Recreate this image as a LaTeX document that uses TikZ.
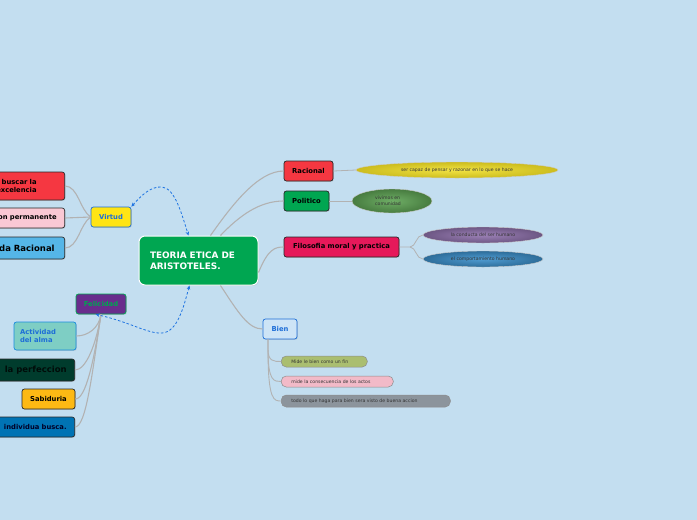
\documentclass[tikz,border=0pt]{standalone}
\usepackage{fontspec}
\setmainfont{DejaVu Sans}
\usetikzlibrary{arrows.meta,shapes.geometric,shadows}
\definecolor{bg}{RGB}{195,222,240}
\definecolor{conn}{RGB}{178,178,178}
\definecolor{dash}{RGB}{30,115,225}
\definecolor{cgreen}{RGB}{0,166,81}
\definecolor{cyellow}{RGB}{255,228,20}
\definecolor{cblue}{RGB}{30,110,215}
\definecolor{cred}{RGB}{245,55,65}
\definecolor{cpink}{RGB}{250,200,212}
\definecolor{clblue}{RGB}{85,182,232}
\definecolor{cpurple}{RGB}{105,45,140}
\definecolor{cteal}{RGB}{126,206,196}
\definecolor{cdkgreen}{RGB}{0,60,45}
\definecolor{corange}{RGB}{253,185,20}
\definecolor{cdblue}{RGB}{0,115,180}
\definecolor{cmag}{RGB}{230,25,90}
\definecolor{cbien}{RGB}{205,228,246}
\definecolor{colive}{RGB}{170,190,112}
\definecolor{cpink2}{RGB}{242,186,200}
\definecolor{cgray}{RGB}{140,148,156}
\definecolor{boxline}{RGB}{40,40,40}
\definecolor{eyel}{RGB}{240,222,35}
\definecolor{egrn}{RGB}{95,165,85}
\definecolor{epur}{RGB}{145,115,175}
\definecolor{eblu}{RGB}{60,145,205}
\tikzset{
  box/.style={draw=boxline, line width=0.7pt, rounded corners=2.5pt, inner sep=0pt,
    minimum height=20pt, font=\bfseries\fontsize{6.8}{8.5}\selectfont, align=center,
    drop shadow={shadow xshift=0.8pt, shadow yshift=-0.8pt, opacity=0.25}},
  cutbox/.style={box, anchor=east, align=right, inner xsep=8pt, text width=120pt},
  pill/.style={draw=black!45, line width=0.5pt, rounded corners=5pt, inner sep=0pt,
    anchor=west, font=\fontsize{4.6}{5.5}\selectfont, text=black!80, align=left},
  oval/.style={ellipse, draw=black!20, line width=0.4pt, inner sep=0pt,
    font=\fontsize{4.6}{5.5}\selectfont, text=black!80},
  link/.style={draw=conn, line width=1.1pt},
  dlink/.style={draw=dash, line width=0.8pt, dashed, dash pattern=on 2.5pt off 2pt,
    {Stealth[length=4pt,width=3.5pt]}-{Stealth[length=4pt,width=3.5pt]}},
}
\begin{document}
\begin{tikzpicture}[x=1pt,y=-1pt]
\useasboundingbox (0,0) rectangle (697,520);
\clip (0,0) rectangle (697,520);
\fill[bg] (0,0) rectangle (697,520);

% central
\node[draw=white, line width=1pt, fill=cgreen, rounded corners=6pt, minimum width=119pt,
  minimum height=49pt, inner sep=0pt, text width=97pt, align=left, text=white,
  font=\bfseries\fontsize{8.9}{11}\selectfont,
  drop shadow={shadow xshift=0.8pt, shadow yshift=-0.8pt, opacity=0.25}]
  (c) at (198.5,260.5) {TEORIA ETICA DE\\ARISTOTELES.};

% right branch
\node[box, fill=cred, minimum width=49pt] (rac) at (308.5,171) {Racional};
\node[box, fill=cgreen, minimum width=45pt] (pol) at (306.5,201) {Politico};
\node[box, fill=cmag, minimum width=115pt] (fil) at (341.5,247) {Filosofia moral y practica};
\node[box, draw=cblue, fill=cbien, text=cblue, minimum width=34pt] (bien) at (280,329) {Bien};

\node[oval, inner color=eyel!85!white, outer color=eyel!85!black,
  minimum width=202pt, minimum height=16pt] (e1) at (457,170)
  {ser capaz de pensar y razonar en lo que se hace};
\node[oval, inner color=egrn!90!white, outer color=egrn!75!black,
  minimum width=80pt, minimum height=24pt, align=left] (e2) at (392,201)
  {vivimos en\\comunidad\hspace*{8pt}};
\node[oval, inner color=epur!90!white, outer color=epur!75!black,
  minimum width=120pt, minimum height=16pt] (e3) at (483,235) {la conducta del ser humano};
\node[oval, inner color=eblu!90!white, outer color=eblu!75!black,
  minimum width=120pt, minimum height=16pt] (e4) at (483,259) {el comportamiento humano};

\node[pill, fill=colive, minimum width=86pt, minimum height=11pt, text width=74pt] (b1) at (281,361.5) {\hspace*{4pt}Mide le bien como un fin};
\node[pill, fill=cpink2, minimum width=112pt, minimum height=11pt, text width=100pt] (b2) at (281,381.5) {\hspace*{4pt}mide la consecuencia de los actos};
\node[pill, fill=cgray, minimum width=169pt, minimum height=12pt, text width=157pt] (b3) at (281,401) {\hspace*{4pt}todo lo que haga para bien sera visto de buena accion};

% left branch: Virtud
\node[box, draw=cblue, fill=cyellow, text=cblue, minimum width=40pt] (vir) at (111,217) {Virtud};
\node[cutbox, fill=cred, minimum height=28pt, inner xsep=28pt] (exc) at (65,186) {buscar la\\excelencia};
\node[cutbox, fill=cpink, minimum height=20pt] (perm) at (65,218) {on permanente};
\node[cutbox, fill=clblue, minimum height=22pt, inner xsep=10pt,
  font=\bfseries\fontsize{8.5}{10}\selectfont] (vrac) at (65,248) {da Racional};

% left branch: Felicidad
\node[box, draw=cgreen, fill=cpurple, text=cgreen, minimum width=50pt] (fel) at (101,304) {Felicidad};
\node[box, draw=cblue!80!cyan, fill=cteal, text=cblue, minimum width=62pt, minimum height=28pt,
  text width=50pt, align=left] (act) at (45,336) {Actividad\\del alma};
\node[cutbox, fill=cdkgreen, text=black!80!cdkgreen, minimum height=22pt,
  font=\bfseries\fontsize{8.5}{10}\selectfont] (perf) at (75,370) {la perfeccion};
\node[box, fill=corange, minimum width=53pt] (sab) at (48.5,399) {Sabiduria};
\node[cutbox, fill=cdblue, text=black!85!blue, minimum height=20pt] (ind) at (75,427) {individua busca.};

% connectors (right)
\path[link] ([xshift=12pt]c.north) .. controls (232,205) and (258,171) .. (rac.west);
\path[link] ([xshift=22pt]c.north) .. controls (240,215) and (260,201) .. (pol.west);
\path[link] ([yshift=-12pt]c.east) .. controls (268,249) and (275,247) .. (fil.west);
\path[link] ([xshift=22pt]c.south) .. controls (238,312) and (248,329) .. (bien.west);

\coordinate (fj) at (410,247);
\path[link, line width=0.8pt] (fil.east) -- (fj) .. controls (416,247) and (416,235) .. (e3.west);
\path[link, line width=0.8pt] (fj) .. controls (416,247) and (416,259) .. (e4.west);
\path[link, line width=0.8pt] (rac.east) -- (e1.west);
\path[link, line width=0.8pt] (pol.east) -- (e2.west);

\coordinate (bj) at ([xshift=-12pt]bien.south);
\path[link, line width=0.9pt] (bj) -- ++(0,10) .. controls (268,361.5) and (274,361.5) .. (b1.west);
\path[link, line width=0.9pt] (bj) -- ++(0,10) .. controls (268,381.5) and (274,381.5) .. (b2.west);
\path[link, line width=0.9pt] (bj) -- ++(0,10) .. controls (268,401) and (274,401) .. (b3.west);

% connectors (left)
\path[link] (vir.west) .. controls (80,210) and (78,186) .. (exc.east);
\path[link] (vir.west) -- (perm.east);
\path[link] (vir.west) .. controls (80,224) and (78,248) .. (vrac.east);

\path[link] (fel.south) .. controls (99,328) and (88,336) .. (act.east);
\path[link] (fel.south) .. controls (96,345) and (86,370) .. (perf.east);
\path[link] (fel.south) .. controls (94,360) and (86,399) .. (sab.east);
\path[link] (fel.south) .. controls (92,375) and (86,427) .. (ind.east);

% dashed relations
\draw[dlink] (vir.north east) .. controls (140,197) and (150,186) .. (162,187)
  .. controls (175,188) and (182,215) .. ([xshift=-10pt]c.north);
\draw[dlink] ([xshift=-9pt]c.south) .. controls (184,305) and (178,332) .. (162,333)
  .. controls (148,334) and (130,322) .. ([xshift=20pt]fel.south west);
\end{tikzpicture}
\end{document}
